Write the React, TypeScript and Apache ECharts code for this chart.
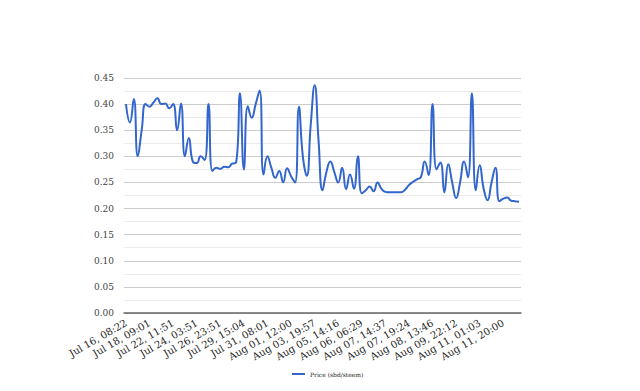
import React, { useEffect, useRef } from "react";
import * as echarts from "echarts";

const tickLabels = [
  "Jul 16, 08:22", "Jul 18, 09:01", "Jul 22, 11:51", "Jul 24, 03:51", "Jul 26, 23:51",
  "Jul 29, 15:04", "Jul 31, 08:01", "Aug 01, 12:00", "Aug 03, 19:57", "Aug 05, 14:16",
  "Aug 06, 06:29", "Aug 07, 14:37", "Aug 07, 19:24", "Aug 08, 13:46", "Aug 09, 22:12",
  "Aug 11, 01:03", "Aug 11, 20:00",
];

const price = [
  0.40, 0.365, 0.41, 0.30, 0.35, 0.40, 0.395, 0.403, 0.411, 0.40,
  0.401, 0.392, 0.40, 0.35, 0.401, 0.30, 0.335, 0.29, 0.287, 0.30,
  0.293, 0.40, 0.272, 0.278, 0.276, 0.28, 0.279, 0.286, 0.288, 0.421,
  0.275, 0.396, 0.374, 0.40, 0.426, 0.265, 0.30, 0.278, 0.259, 0.272,
  0.25, 0.277, 0.262, 0.25, 0.395, 0.30, 0.263, 0.36, 0.436, 0.33,
  0.235, 0.27, 0.29, 0.27, 0.25, 0.278, 0.237, 0.265, 0.238, 0.30,
  0.229, 0.235, 0.242, 0.233, 0.25, 0.238, 0.232, 0.231, 0.231, 0.231,
  0.231, 0.236, 0.245, 0.251, 0.256, 0.26, 0.29, 0.264, 0.40, 0.275,
  0.288, 0.231, 0.285, 0.25, 0.22, 0.25, 0.29, 0.26, 0.421, 0.235,
  0.283, 0.238, 0.216, 0.25, 0.278, 0.214, 0.219, 0.221, 0.215, 0.214,
  0.213,
];

const LABEL_STEP = 6;
const categories = price.map((_, i) =>
  i % LABEL_STEP === 0 ? tickLabels[i / LABEL_STEP] ?? "" : ""
);

const FONT = "'DejaVu Serif', serif";

export default function App() {
  const ref = useRef<HTMLDivElement>(null);
  useEffect(() => {
    if (!ref.current) return;
    const chart = echarts.init(ref.current, undefined, { renderer: "svg" });
    chart.setOption({
      animation: false,
      backgroundColor: "#ffffff",
      grid: { left: 124, right: 119, top: 78, bottom: 78, containLabel: false },
      legend: {
        left: 287,
        top: 366,
        icon: "rect",
        itemWidth: 13,
        itemHeight: 2,
        itemGap: 10,
        textStyle: { fontFamily: FONT, fontSize: 6, color: "#222" },
        data: ["Price (sbd/steem)"],
      },
      xAxis: {
        type: "category",
        data: categories,
        boundaryGap: true,
        axisLine: { show: true, lineStyle: { color: "#666", width: 1.5 } },
        axisTick: { show: false },
        splitLine: { show: false },
        axisLabel: {
          interval: 0,
          hideOverlap: false,
          rotate: 30,
          margin: 9,
          fontFamily: FONT,
          fontSize: 10,
          color: "#222",
        },
      },
      yAxis: {
        type: "value",
        min: 0,
        max: 0.45,
        interval: 0.05,
        axisLine: { show: false },
        axisTick: { show: false },
        axisLabel: {
          margin: 10,
          fontFamily: FONT,
          fontSize: 9,
          color: "#444",
          formatter: (v: number) => v.toFixed(2),
        },
        splitLine: { show: true, lineStyle: { color: "#cccccc", width: 1 } },
        minorTick: { show: false, splitNumber: 2 },
        minorSplitLine: { show: true, lineStyle: { color: "#ebebeb", width: 1 } },
      },
      series: [
        {
          name: "Price (sbd/steem)",
          type: "line",
          data: price,
          smooth: 0.5,
          symbol: "none",
          lineStyle: { color: "#3366cc", width: 2 },
          itemStyle: { color: "#3366cc" },
        },
      ],
    });
    return () => chart.dispose();
  }, []);
  return (
    <div
      ref={ref}
      style={{ position: "fixed", left: 0, top: 0, width: 640, height: 391 }}
    />
  );
}
